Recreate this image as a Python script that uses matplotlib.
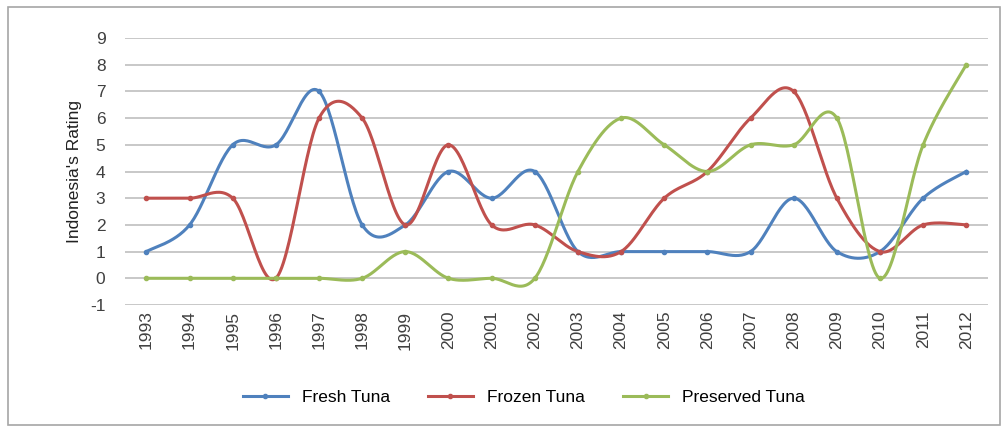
import numpy as np
import matplotlib
matplotlib.use("Agg")
import matplotlib.pyplot as plt
from matplotlib.patches import Rectangle

years = [str(y) for y in range(1993, 2013)]
fresh_tuna = [1, 2, 5, 5, 7, 2, 2, 4, 3, 4, 1, 1, 1, 1, 1, 3, 1, 1, 3, 4]
frozen_tuna = [3, 3, 3, 0, 6, 6, 2, 5, 2, 2, 1, 1, 3, 4, 6, 7, 3, 1, 2, 2]
preserved_tuna = [0, 0, 0, 0, 0, 0, 1, 0, 0, 0, 4, 6, 5, 4, 5, 5, 6, 0, 5, 8]

series = [("Fresh Tuna", fresh_tuna, "#4F81BD"),
          ("Frozen Tuna", frozen_tuna, "#C0504D"),
          ("Preserved Tuna", preserved_tuna, "#9BBB59")]


def smooth(xs, ys, n=30):
    xs = np.asarray(xs, float)
    ys = np.asarray(ys, float)
    px = np.concatenate([[xs[0]], xs, [xs[-1]]])
    py = np.concatenate([[ys[0]], ys, [ys[-1]]])
    outx, outy = [], []
    t = np.linspace(0, 1, n)
    for i in range(1, len(px) - 2):
        p0 = np.array([px[i], py[i]])
        p3 = np.array([px[i + 1], py[i + 1]])
        c1 = p0 + (np.array([px[i + 1], py[i + 1]]) - np.array([px[i - 1], py[i - 1]])) / 6
        c2 = p3 - (np.array([px[i + 2], py[i + 2]]) - np.array([px[i], py[i]])) / 6
        b = ((1 - t) ** 3)[:, None] * p0 + (3 * (1 - t) ** 2 * t)[:, None] * c1 \
            + (3 * (1 - t) * t ** 2)[:, None] * c2 + (t ** 3)[:, None] * p3
        outx.extend(b[:, 0])
        outy.extend(b[:, 1])
    return np.array(outx), np.array(outy)


plt.rcParams['font.family'] = ['Liberation Sans Narrow', 'Liberation Sans', 'DejaVu Sans']
plt.rcParams['axes.unicode_minus'] = False

fig = plt.figure(figsize=(10.07, 4.32), dpi=100)
fig.patches.append(Rectangle((8 / 1007, 7 / 432), 992 / 1007, 418 / 432,
                             transform=fig.transFigure, fill=False,
                             edgecolor="#A6A6A6", linewidth=1.2))

ax = fig.add_axes([0.124, 0.294, 0.857, 0.618])
x = np.arange(len(years))
for name, vals, color in series:
    sx, sy = smooth(x, vals)
    ax.plot(sx, sy, color=color, linewidth=2.2, zorder=3)
    ax.plot(x, vals, linestyle="none", marker="o", markersize=3, color=color, zorder=4)
    ax.plot([], [], color=color, linewidth=2.2, marker="o", markersize=3, label=name)

ax.set_xlim(-0.5, len(years) - 0.5)
ax.set_ylim(-1, 9)
ax.set_yticks(range(-1, 10))
ax.set_xticks(x)
ax.set_xticklabels(years, rotation=90, fontsize=12.5, color="#404040")
ax.tick_params(axis="y", labelsize=12.5, labelcolor="#404040", length=0, pad=14)
ax.tick_params(axis="x", length=0, pad=4)
ax.grid(axis="y", color="#BFBFBF", linewidth=1.2)
ax.set_axisbelow(True)
for s in ax.spines.values():
    s.set_visible(False)
ax.set_ylabel("Indonesia's Rating", fontsize=12.5, color="#202020", labelpad=6)

leg = fig.legend(loc="center", bbox_to_anchor=(0.52, 0.08), ncol=3, frameon=False,
                 fontsize=12.5, handlelength=2.6, columnspacing=2.2)

fig.savefig("out.png", dpi=100)
